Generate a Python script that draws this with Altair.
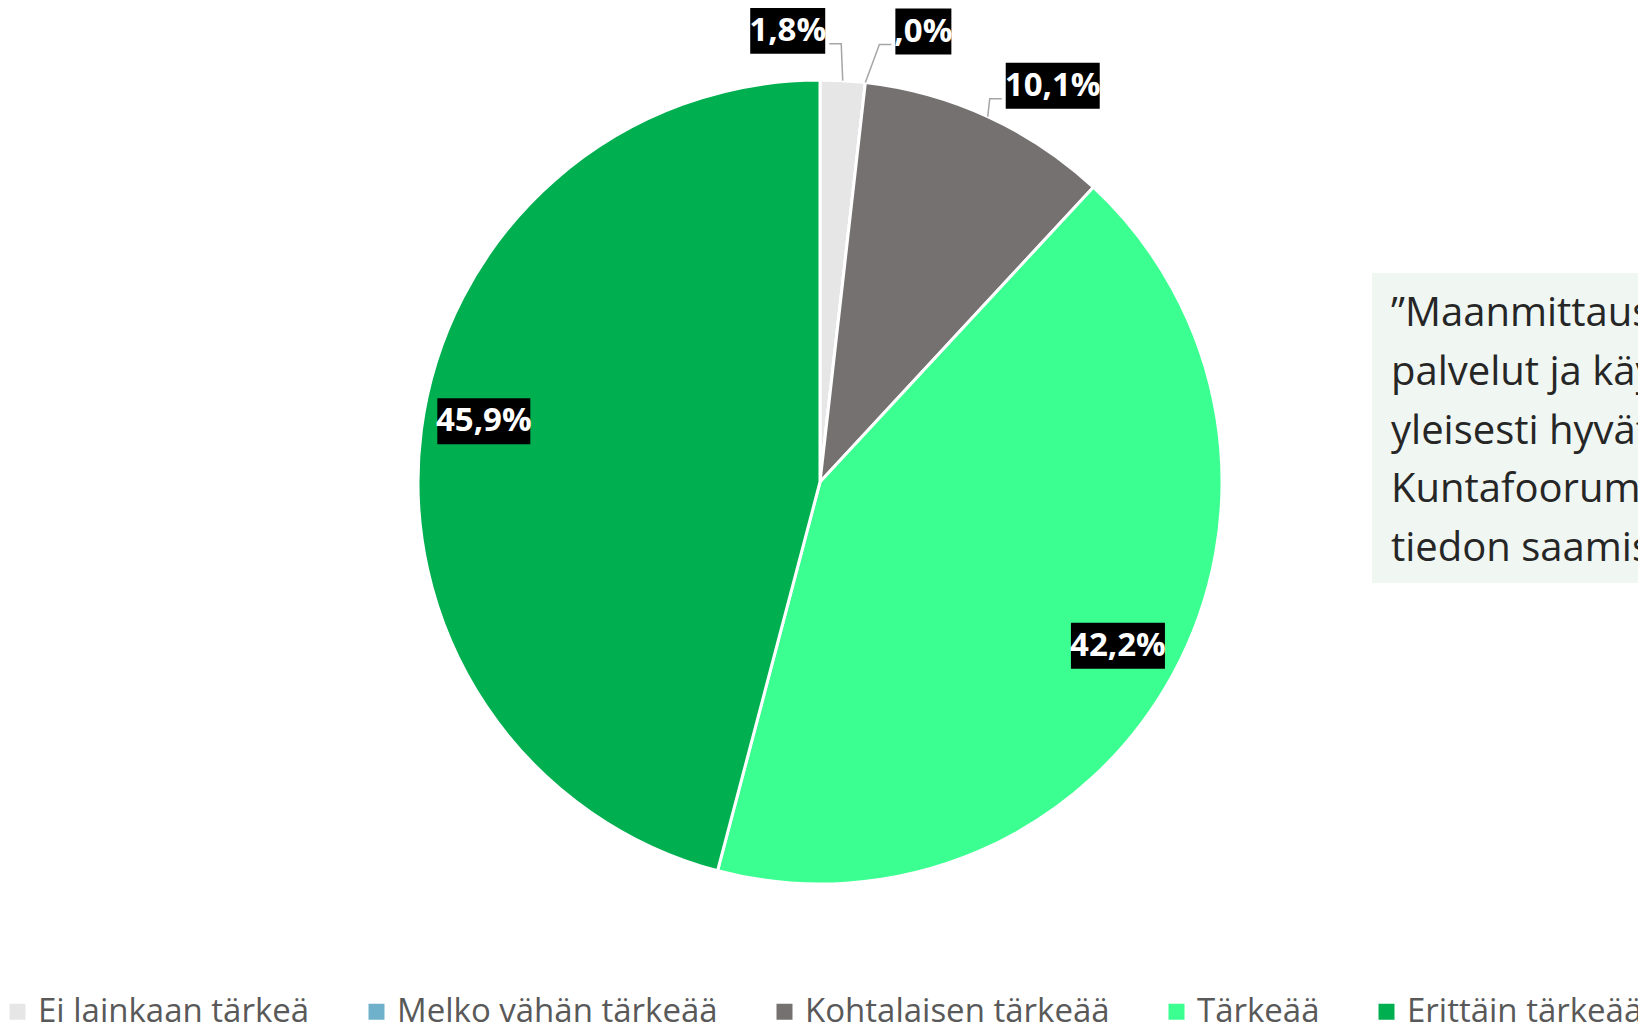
import math
import altair as alt
import pandas as pd

# ---- data ----
categories = ["Ei lainkaan tärkeä", "Melko vähän tärkeää", "Kohtalaisen tärkeää", "Tärkeää", "Erittäin tärkeää"]
values = [1.8, 0.0, 10.1, 42.2, 45.9]
colors = ["#E7E6E6", "#6FB1CB", "#767171", "#3BFF91", "#00B050"]
note_lines = [
    "\u201dMaanmittauslaitoksen",
    "palvelut ja käyttöehdot",
    "yleisesti hyvät",
    "Kuntafoorumi",
    "tiedon saamiseksi",
]

# ---- layout / style ----
W, H = 1630, 1014
CX, CY, R = 812, 474, 402
INNER_R = 340
label_anchor = ["edge", "edge", "edge", "inner", "inner"]
label_dx = [-55, 58, 65, 0, 1]
label_dy = [-50, -51, -31, 0, -17]
box_w = [75, 56, 94, 94, 93]
BOX_H = 46
FONT = "Open Sans"

total = sum(values)
pie_rows, lab_rows, lead_rows = [], [], []
cum = 0.0
for i, (c, v) in enumerate(zip(categories, values)):
    pie_rows.append({"category": c, "value": v, "idx": i})
    mid = (cum + v / 2) / total * 2 * math.pi
    cum += v
    r = R if label_anchor[i] == "edge" else INNER_R
    ax = CX + r * math.sin(mid)
    ay = CY - r * math.cos(mid)
    lx = ax + label_dx[i]
    ly = ay + label_dy[i]
    text = f"{v:.1f}".replace(".", ",").lstrip("0") + "%"
    lab_rows.append({
        "label": text, "x": lx, "y": ly,
        "x0": lx - box_w[i] / 2, "x1": lx + box_w[i] / 2,
        "y0": ly - BOX_H / 2, "y1": ly + BOX_H / 2,
    })
    if label_anchor[i] == "edge":
        side = 1 if label_dx[i] > 0 else -1
        sy = ly + 13
        ex = lx - side * (box_w[i] / 2 + 4)
        bx = ex - side * 12
        for s, (px, py) in enumerate([(ax, ay), (bx, sy), (ex, sy)]):
            lead_rows.append({"label": text, "seq": s, "x": px, "y": py})

pie_df = pd.DataFrame(pie_rows)
lab_df = pd.DataFrame(lab_rows)
lead_df = pd.DataFrame(lead_rows)
one = pd.DataFrame({"a": [0]})

box = alt.Chart(one).mark_rect(color="#F0F6F2").encode(
    x=alt.value(1364), x2=alt.value(1700), y=alt.value(265), y2=alt.value(575)
)
note = alt.Chart(one).mark_text(
    text=note_lines, align="left", baseline="alphabetic", font=FONT,
    fontSize=40, lineHeight=58.75, color="#262626"
).encode(x=alt.value(1383), y=alt.value(318))

pie = alt.Chart(pie_df).mark_arc(
    outerRadius=R, stroke="white", strokeWidth=3, strokeJoin="round"
).encode(
    theta=alt.Theta("value:Q", stack=True),
    color=alt.Color(
        "category:N",
        scale=alt.Scale(domain=categories, range=colors),
        sort=categories,
        legend=alt.Legend(
            orient="none", legendX=-7, legendY=987, direction="horizontal",
            title=None, symbolType="square", symbolSize=256, symbolStrokeWidth=0,
            labelFontSize=33, labelFont=FONT, labelColor="#595959",
            labelOffset=4, columnPadding=50, padding=0, labelLimit=0,
        ),
    ),
    order=alt.Order("idx:Q"),
    x=alt.value(CX),
    y=alt.value(CY),
)

leaders = alt.Chart(lead_df).mark_line(color="#A6A6A6", strokeWidth=1.5).encode(
    x=alt.X("x:Q", scale=None, axis=None),
    y=alt.Y("y:Q", scale=None, axis=None),
    detail="label:N",
    order="seq:Q",
)

lab_boxes = alt.Chart(lab_df).mark_rect(color="black").encode(
    x=alt.X("x0:Q", scale=None, axis=None), x2="x1:Q",
    y=alt.Y("y0:Q", scale=None, axis=None), y2="y1:Q",
)
lab_text = alt.Chart(lab_df).mark_text(
    color="white", font=FONT, fontWeight="bold", fontSize=33, baseline="middle"
).encode(
    x=alt.X("x:Q", scale=None, axis=None),
    y=alt.Y("y:Q", scale=None, axis=None),
    text="label:N",
)

chart = alt.layer(box, note, pie, leaders, lab_boxes, lab_text).properties(
    width=W, height=H, autosize=alt.AutoSizeParams(type="none"), padding=0
).configure_view(stroke=None)

chart.save("out.html", embed_options={"renderer": "svg", "actions": False})
